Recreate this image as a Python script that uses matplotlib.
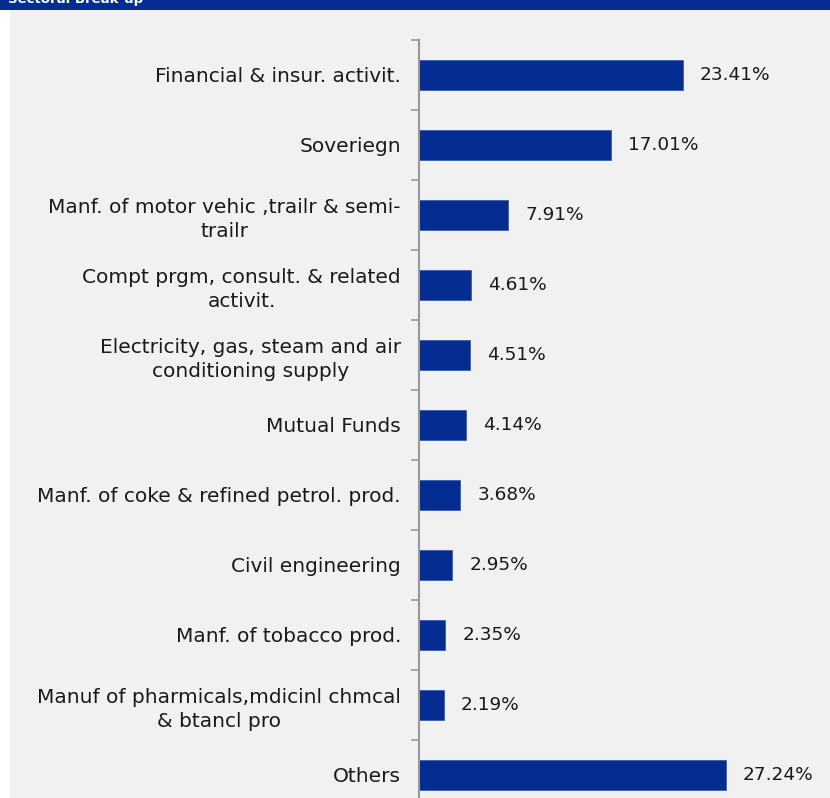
import matplotlib
matplotlib.use("Agg")
import matplotlib.pyplot as plt
from matplotlib.patches import Rectangle

categories = [
    "Financial & insur. activit.",
    "Soveriegn",
    "Manf. of motor vehic ,trailr & semi-\ntrailr",
    "Compt prgm, consult. & related\nactivit.",
    "Electricity, gas, steam and air\nconditioning supply",
    "Mutual Funds",
    "Manf. of coke & refined petrol. prod.",
    "Civil engineering",
    "Manf. of tobacco prod.",
    "Manuf of pharmicals,mdicinl chmcal\n& btancl pro",
    "Others",
]
values = [23.41, 17.01, 7.91, 4.61, 4.51, 4.14, 3.68, 2.95, 2.35, 2.19, 27.24]
title = "Sectoral Break-up"

BAR_COLOR = "#052d91"
BG = "#f1f1f1"
TEXT = "#1a1a1a"
FONT = "DejaVu Sans"

W, H = 830, 798
fig = plt.figure(figsize=(W / 100, H / 100), dpi=100)
fig.patch.set_facecolor("white")

# panel background and header band
fig.patches.append(Rectangle((10 / W, 0), 1, (H - 10) / H, transform=fig.transFigure,
                             facecolor=BG, edgecolor="none", zorder=0))
fig.patches.append(Rectangle((0, (H - 10) / H), 1, 10 / H, transform=fig.transFigure,
                             facecolor=BAR_COLOR, edgecolor="none", zorder=0))
fig.text(8 / W, (H - 3) / H, title, color="white", fontsize=9.5, fontweight="bold",
         family=FONT, va="baseline", ha="left", zorder=3)

ax_left, ax_right, ax_top = 419, 830, 40
ax = fig.add_axes([ax_left / W, 0, (ax_right - ax_left) / W, (H - ax_top) / H])
ax.set_zorder(2)
ax.set_facecolor("none")

slot = 70.0
n_vis = (H - ax_top) / slot
y = list(range(len(categories)))
ax.barh(y, values, height=0.43, color=BAR_COLOR, edgecolor="#3a5fb0", linewidth=0.6)
ax.set_ylim(-0.5 + n_vis, -0.5)
ax.set_xlim(0, (ax_right - ax_left) / 11.27)

for yi, v in zip(y, values):
    ax.text(v + 1.5, yi, f"{v:.2f}%", va="center", ha="left", fontsize=13.3,
            color=TEXT, family=FONT)

ax.set_yticks(y)
ax.set_yticklabels(categories, fontsize=14.5, color=TEXT, family=FONT,
                   multialignment="center", linespacing=1.35)
ax.tick_params(axis="y", which="major", length=0, pad=13)
ax.set_yticks([i - 0.5 for i in range(len(categories))], minor=True)
ax.tick_params(axis="y", which="minor", length=6, color="#999999", width=1.2)
ax.set_xticks([])
for s in ["top", "right", "bottom"]:
    ax.spines[s].set_visible(False)
ax.spines["left"].set_color("#999999")
ax.spines["left"].set_linewidth(1.5)

fig.savefig("out.png", dpi=100, facecolor=fig.get_facecolor())
